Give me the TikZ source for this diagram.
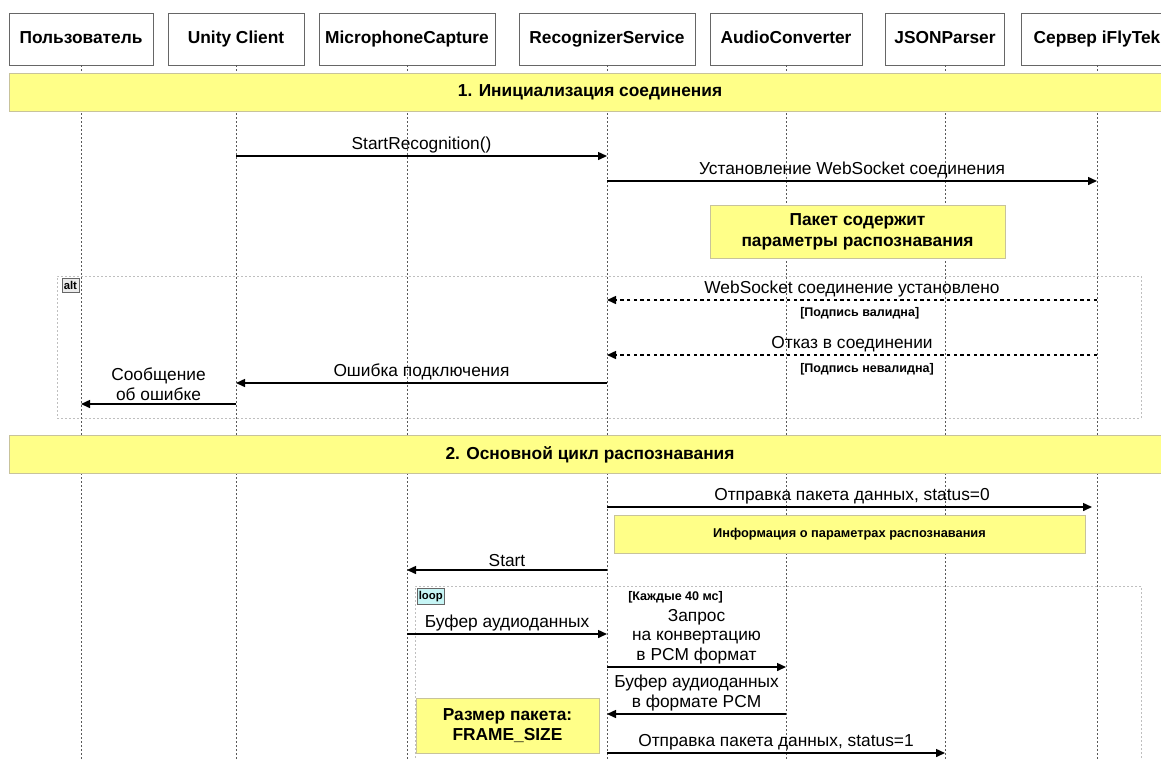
\documentclass[tikz,border=0pt]{standalone}
\usepackage{fontspec}
\setmainfont{Liberation Sans}
\usetikzlibrary{positioning, arrows.meta, calc}
\definecolor{NoteYellow}{HTML}{FFFF88}
\definecolor{NoteLine}{HTML}{C8C39B}
\definecolor{LoopCyan}{HTML}{C6F5F5}

\begin{document}
\begin{tikzpicture}[
  x=0.75pt, y=-0.75pt,
  part/.style={draw=gray!80!black, fill=white, minimum height=39pt, text height=9.5pt, text depth=2.8pt,
    font=\fontsize{13}{15}\selectfont\bfseries},
  lifeline/.style={draw=gray!70!black, line width=0.75pt, dash pattern=on 1.5pt off 1.5pt},
  banner/.style={draw=NoteLine, fill=NoteYellow, minimum width=871.5pt, minimum height=28.5pt, font=\fontsize{13}{15}\selectfont\bfseries},
  note/.style={draw=NoteLine, fill=NoteYellow, align=center},
  frame/.style={draw=gray!50, line width=0.75pt, dash pattern=on 1.5pt off 1.5pt},
  tag/.style={draw=gray!80!black, font=\fontsize{8.5}{9}\selectfont\bfseries, inner xsep=1.5pt, inner ysep=2.3pt, anchor=north west},
  guard/.style={font=\fontsize{9.4}{11}\selectfont\bfseries, anchor=west, inner sep=0pt},
  msg/.style={line width=1.1pt, -{Triangle[length=6.75pt, width=6pt]}},
  reply/.style={msg, dash pattern=on 2.5pt off 2.5pt},
  lbl/.style={midway, above, inner sep=2pt, align=center, font=\fontsize{13}{14.6}\selectfont},
]
  \useasboundingbox (0,0) rectangle (1161,758);
  \fill[white] (0,0) rectangle (1161,758);
  \clip (0,0) rectangle (1161,758);

  % Frames (behind everything)
  \node[frame, minimum width=813pt, minimum height=106.5pt] (altFrame) at (599,347) {};
  \node[frame, minimum width=544.5pt, minimum height=160.5pt] (loopFrame) at (778,693) {};

  % Participants and lifelines
  \foreach \n/\x/\w/\t in {user/81/108/Пользователь, uc/236/102/Unity Client,
      mic/407/132/MicrophoneCapture, rs/607/132/RecognizerService,
      ac/786/114/AudioConverter, jp/945/89.25/JSONParser, srv/1097/114/Сервер iFlyTek} {
    \node[part, minimum width=\w pt] (\n) at (\x,39) {\t};
    \coordinate (\n-end) at (\x,765);
    \draw[lifeline] (\n.south) -- (\n-end);
  }

  % 1. Connection setup
  \node[banner] (phase1) at (590,92) {1. Инициализация соединения};

  \draw[msg] (uc |- 0,156) -- (rs |- 0,156) node[lbl] {StartRecognition()};
  \draw[msg] (rs |- 0,181) -- (srv |- 0,181) node[lbl] {Установление WebSocket соединения};

  \node[note, minimum width=221.25pt, minimum height=39.75pt, font=\fontsize{13}{15.75}\selectfont\bfseries]
    (noteParams) at (857.5,231.5) {Пакет содержит\\параметры распознавания};

  \node[tag, fill=gray!15] (altTag) at ([shift={(5,2)}]altFrame.north west) {alt};

  \draw[reply] (srv |- 0,300) -- (rs |- 0,300) node[lbl] {WebSocket соединение установлено};
  \node[guard] (gValid) at (800,313) {[Подпись валидна]};
  \draw[reply] (srv |- 0,355) -- (rs |- 0,355) node[lbl] {Отказ в соединении};
  \node[guard] (gInvalid) at (800,369) {[Подпись невалидна]};
  \draw[msg] (rs |- 0,383) -- (uc |- 0,383) node[lbl] {Ошибка подключения};
  \draw[msg] (uc |- 0,404) -- (user |- 0,404) node[lbl] {Сообщение\\об ошибке};

  % 2. Main loop
  \node[banner] (phase2) at (590,454.5) {2. Основной цикл распознавания};

  \draw[msg, shorten >=3.75pt] (rs |- 0,507) -- (srv |- 0,507) node[lbl] {Отправка пакета данных, status=0};
  \node[note, minimum width=353.25pt, minimum height=28.5pt, font=\fontsize{9.6}{11}\selectfont\bfseries]
    (noteInfo) at (849.5,534) {Информация о параметрах распознавания};

  \draw[msg] (rs |- 0,570) -- (mic |- 0,570) node[lbl] {Start};

  \node[tag, fill=LoopCyan] (loopTag) at ([shift={(2,2)}]loopFrame.north west) {loop};
  \node[guard] (gEvery) at (628,597) {[Каждые 40 мс]};

  \draw[msg] (mic |- 0,634) -- (rs |- 0,634) node[lbl] {Буфер аудиоданных};
  \draw[msg] (rs |- 0,667) -- (ac |- 0,667) node[lbl] {Запрос\\на конвертацию\\в PCM формат};
  \draw[msg] (ac |- 0,714) -- (rs |- 0,714) node[lbl] {Буфер аудиоданных\\в формате PCM};

  \node[note, minimum width=137.25pt, minimum height=41.25pt, font=\fontsize{13}{15}\selectfont\bfseries]
    (noteSize) at (507.5,725.5) {Размер пакета:\\FRAME\_SIZE};

  \draw[msg] (rs |- 0,753) -- (jp |- 0,753) node[lbl] {Отправка пакета данных, status=1};
\end{tikzpicture}
\end{document}
